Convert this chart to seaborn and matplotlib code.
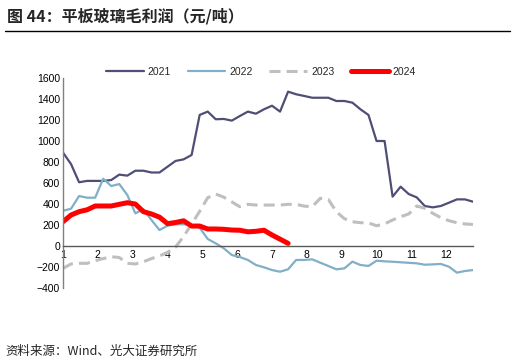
import numpy as np
import pandas as pd
import seaborn as sns
import matplotlib.pyplot as plt

# weekly gross profit of float glass (yuan/ton)
y2021 = [890, 780, 607, 620, 620, 620, 628, 680, 670, 717, 717, 700, 700, 755, 810, 825,
         867, 1248, 1280, 1207, 1210, 1194, 1238, 1280, 1260, 1302, 1336, 1280, 1470, 1445,
         1429, 1412, 1412, 1412, 1381, 1381, 1365, 1302, 1248, 1000, 1000, 470, 565, 495,
         463, 381, 368, 381, 412, 444, 444, 422]
y2022 = [336, 355, 476, 460, 460, 641, 571, 590, 486, 311, 349, 248, 152, 193, 207, 207,
         200, 174, 67, 25, -22, -86, -105, -133, -181, -203, -229, -245, -222, -133,
         -133, -127, -159, -190, -222, -213, -149, -181, -190, -140, -146, -150, -155, -160,
         -165, -178, -175, -171, -197, -254, -238, -229]
y2023 = [-213, -171, -165, -165, -140, -120, -102, -110, -165, -171, -150, -120, -95, -60,
         -10, 90, 210, 330, 460, 495, 465, 420, 374, 397, 390, 390, 390, 390, 397, 397,
         380, 374, 454, 444, 327, 260, 231, 222, 220, 193, 210, 248, 279, 305, 381, 359,
         311, 270, 241, 222, 210, 205]
y2024 = [231, 295, 327, 345, 381, 381, 381, 397, 412, 400, 327, 305, 275, 213, 224, 240,
         190, 190, 162, 162, 159, 152, 150, 135, 140, 150, 105, 65, 25]
months = [str(m) for m in range(1, 13)]

series = {
    '2021': (y2021, '#4f4e76', 1.6, '-'),
    '2022': (y2022, '#80afc7', 1.6, '-'),
    '2023': (y2023, '#bfbfbf', 2.2, (0, (3.6, 2.0))),
    '2024': (y2024, '#ff0000', 3.6, '-'),
}

sns.set_style('white')
plt.rcParams['font.family'] = ['Liberation Sans', 'Noto Sans CJK SC']

fig = plt.figure(figsize=(5.16, 3.63), dpi=100)
ax = fig.add_axes([63 / 516, 1 - 288 / 363, 410 / 516, 210 / 363])

for name, (vals, color, lw, ls) in series.items():
    df = pd.DataFrame({'week': np.arange(len(vals)), 'profit': vals})
    sns.lineplot(data=df, x='week', y='profit', ax=ax, color=color, linewidth=lw,
                 linestyle=ls, label=name, solid_capstyle='round')

ax.set_xlim(0, 51)
ax.set_ylim(-400, 1600)
ax.set_yticks(range(-400, 1601, 200))
ax.set_xticks([i * 52 / 12 for i in range(12)])
ax.set_xticklabels(months)
ax.set_xlabel('')
ax.set_ylabel('')

for s in ['top', 'right']:
    ax.spines[s].set_visible(False)
ax.spines['bottom'].set_position(('data', 0))
ax.spines['bottom'].set_color('#595959')
ax.spines['left'].set_color('#808080')
ax.spines['bottom'].set_linewidth(1.0)
ax.spines['left'].set_linewidth(1.0)
ax.tick_params(axis='both', direction='in', length=3, width=0.8, colors='#595959',
               labelcolor='black', labelsize=7.5, pad=2)
ax.tick_params(axis='x', pad=3)

ax.legend(loc='center', bbox_to_anchor=(0.483, 1.03), ncol=4, frameon=False,
          fontsize=7.5, handlelength=3.6, columnspacing=1.6, handletextpad=0.4)

fig.text(7 / 516, 1 - 16 / 363, '图 44：平板玻璃毛利润（元/吨）', fontsize=11.5,
         fontweight='bold', va='center', ha='left', family=['Noto Sans CJK SC'])
fig.add_artist(plt.Line2D([5 / 516, 510 / 516], [1 - 31 / 363, 1 - 31 / 363],
                          color='black', linewidth=1.0))
fig.text(5 / 516, 1 - 351 / 363, '资料来源：Wind、光大证券研究所', fontsize=9,
         va='center', ha='left', family=['Noto Sans CJK SC', 'Liberation Sans'])

fig.savefig('out.png', dpi=100)
